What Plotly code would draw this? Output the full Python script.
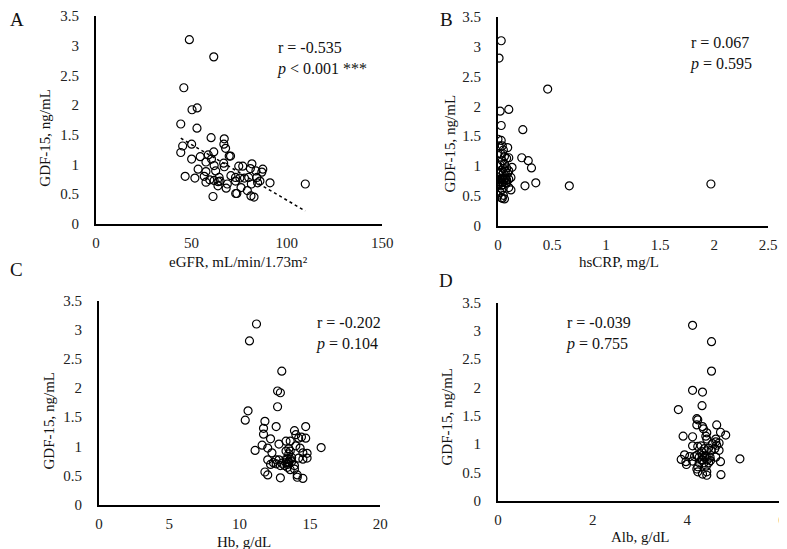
import numpy as np
import plotly.graph_objects as go

# GDF-15 (ng/mL), one value per patient, shared by all four panels
gdf15 = [3.10, 2.81, 2.29, 1.95, 1.92, 1.68, 1.61, 1.45, 1.43, 1.34, 1.34, 1.31, 1.27, 1.21,
         1.20, 1.16, 1.14, 1.14, 1.13, 1.09, 1.09, 1.04, 1.02, 1.01, 0.98, 0.97, 0.97, 0.96,
         0.93, 0.92, 0.92, 0.89, 0.89, 0.88, 0.87, 0.81, 0.80, 0.80, 0.78, 0.78, 0.77, 0.77,
         0.77, 0.78, 0.78, 0.74, 0.73, 0.72, 0.72, 0.70, 0.71, 0.69, 0.69, 0.67, 0.67, 0.67,
         0.64, 0.60, 0.61, 0.56, 0.51, 0.51, 0.47, 0.45, 0.46, 0.72]

egfr = [48.9, 61.7, 46.0, 53.0, 50.3, 44.4, 52.9, 60.3, 67.2, 67.0, 50.1, 45.4, 67.9, 61.7,
        44.4, 58.8, 69.8, 70.5, 54.6, 50.1, 60.5, 57.6, 66.9, 81.7, 61.9, 74.8, 76.9, 67.2,
        80.9, 53.5, 87.4, 62.7, 83.8, 57.6, 86.9, 70.7, 46.7, 56.7, 64.5, 73.1, 51.8, 75.4,
        77.8, 80.0, 84.3, 59.6, 61.9, 73.1, 85.9, 57.6, 64.0, 84.7, 91.2, 68.8, 81.4, 109.7,
        63.9, 68.2, 76.0, 79.3, 73.2, 73.8, 81.2, 82.8, 61.3, 65.0]

hscrp = [0.03, 0.01, 0.46, 0.10, 0.02, 0.03, 0.23, 0.00, 0.03, 0.01, 0.04, 0.09, 0.05, 0.00,
         0.03, 0.06, 0.22, 0.10, 0.08, 0.28, 0.04, 0.06, 0.02, 0.00, 0.13, 0.31, 0.08, 0.05,
         0.03, 0.07, 0.10, 0.02, 0.05, 0.09, 0.01, 0.12, 0.04, 0.07, 0.00, 0.10, 0.02, 0.05,
         0.08, 0.03, 0.06, 0.01, 0.04, 0.35, 0.07, 1.97, 0.02, 0.05, 0.00, 0.25, 0.66, 0.03,
         0.10, 0.12, 0.04, 0.02, 0.00, 0.05, 0.03, 0.06, 0.04, 0.08]

hb = [11.2, 10.7, 13.0, 12.7, 12.9, 12.7, 10.6, 10.4, 11.8, 12.6, 14.7, 11.7, 13.9, 11.7,
      14.0, 14.4, 14.7, 14.2, 12.2, 13.3, 13.6, 12.8, 11.6, 14.0, 15.8, 12.0, 14.3, 13.5,
      11.1, 13.3, 13.6, 12.3, 14.5, 14.8, 13.5, 13.7, 14.2, 14.8, 14.5, 13.4, 12.0, 12.6,
      12.8, 13.6, 13.3, 13.7, 13.5, 13.3, 12.4, 12.6, 13.0, 13.4, 12.2, 13.9, 12.9, 13.2,
      13.4, 13.6, 13.9, 11.8, 12.0, 14.1, 14.1, 14.5, 12.9, 13.5]

alb = [4.11, 4.51, 4.51, 4.11, 4.32, 4.31, 3.81, 4.20, 4.22, 4.62, 4.20, 4.32, 4.34, 4.70,
       4.41, 4.81, 3.91, 4.39, 4.11, 4.60, 4.41, 4.60, 4.67, 4.53, 4.62, 4.29, 4.11, 4.22,
       4.45, 4.58, 4.36, 4.67, 4.50, 4.40, 4.30, 3.94, 4.20, 4.32, 4.05, 4.40, 4.48, 4.60,
       4.25, 4.37, 4.15, 5.11, 3.87, 4.32, 4.42, 4.11, 4.49, 4.70, 3.97, 4.35, 4.45, 4.25,
       3.98, 4.22, 4.40, 4.20, 4.22, 4.41, 4.32, 4.41, 4.71, 4.30]

panels = [
    # letter, x values, x title, x max, x dtick, stats lines
    ("A", egfr, "eGFR, mL/min/1.73m²", 150, 50, "r = -0.535", "<i>p</i> < 0.001 ***"),
    ("B", hscrp, "hsCRP, mg/L", 2.5, 0.5, "r = 0.067", "<i>p</i> = 0.595"),
    ("C", hb, "Hb, g/dL", 20, 5, "r = -0.202", "<i>p</i> = 0.104"),
    ("D", alb, "Alb, g/dL", 6, 2, "r = -0.039", "<i>p</i> = 0.755"),
]

W, H = 787, 549
# the page body adds an 8px margin, so squeeze the layout into what stays visible
SX = (W - 8) / W
SY = (H - 8) / H
FONT = "Liberation Serif, Times New Roman, serif"

# plot areas in pixels: left, right, top, bottom
boxes = [(89, 378, 8, 219), (495, 768, 9, 221), (92, 376, 297, 504), (495, 782, 299, 500)]
# pixel positions of letters, y titles, x titles, stats text
letters_px = [(9, 12), (443, 12), (9, 265), (443, 277)]
ytitle_px = [(37, 132), (447, 137), (41, 419), (443, 414)]
xtitle_px = [(233, 258), (617, 258), (238, 542), (638, 537)]
stats_px = [(270, 39), (687, 34), (309, 318), (562, 318)]


def px(x):
    return x * SX / W


def py(y):
    return 1 - y * SY / H


fig = go.Figure()
annotations = []

for i, (letter, xs, xtitle, xmax, dtick, rtxt, ptxt) in enumerate(panels):
    n = "" if i == 0 else str(i + 1)
    l, r, t, b = boxes[i]
    fig.add_trace(go.Scatter(
        x=xs, y=gdf15, mode="markers",
        marker=dict(symbol="circle-open", size=8, color="black", line=dict(width=1.2)),
        xaxis="x" + n, yaxis="y" + n, showlegend=False,
    ))
    axis_common = dict(showgrid=False, zeroline=False, showline=True, linecolor="black",
                       linewidth=2, ticks="outside", tickcolor="rgba(0,0,0,0)",
                       automargin=False,
                       tickfont=dict(family=FONT, size=15, color="#222"))
    fig.update_layout(**{
        "xaxis" + n: dict(domain=[px(l), px(r)], range=[0, xmax], dtick=dtick, ticklen=4,
                          anchor="y" + n, **axis_common),
        "yaxis" + n: dict(domain=[py(b), py(t)], range=[0, 3.5], dtick=0.5, ticklen=12,
                          anchor="x" + n, **axis_common),
    })

    lx, ly = letters_px[i]
    annotations.append(dict(text=letter, x=px(lx), y=py(ly), font=dict(size=19)))
    yx, yy = ytitle_px[i]
    annotations.append(dict(text="GDF-15, ng/mL", x=px(yx), y=py(yy), textangle=-90,
                            font=dict(size=15)))
    xx, xy = xtitle_px[i]
    annotations.append(dict(text=xtitle, x=px(xx), y=py(xy), font=dict(size=15)))
    sx, sy = stats_px[i]
    annotations.append(dict(text=rtxt + "<br>" + ptxt, x=px(sx), y=py(sy - 10),
                            xanchor="left", yanchor="top", align="left",
                            font=dict(size=16)))

# dotted linear fit for eGFR panel
slope, intercept = np.polyfit(egfr, gdf15, 1)
xfit = np.array([min(egfr), max(egfr)])
fig.add_trace(go.Scatter(x=xfit, y=slope * xfit + intercept, mode="lines",
                         line=dict(color="black", width=1.5, dash="dot"),
                         xaxis="x", yaxis="y", showlegend=False))

for a in annotations:
    a.update(xref="paper", yref="paper", showarrow=False, xanchor=a.get("xanchor", "center"),
             yanchor=a.get("yanchor", "middle"))
    a["font"].update(family=FONT, color="#111")

fig.update_layout(
    width=W, height=H,
    margin=dict(l=0, r=0, t=0, b=0, pad=0, autoexpand=False),
    paper_bgcolor="white", plot_bgcolor="white",
    font=dict(family=FONT, color="#111"),
    annotations=annotations,
)

fig.write_html("out.html")
